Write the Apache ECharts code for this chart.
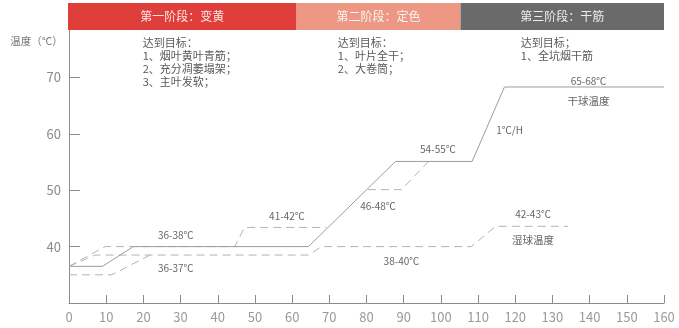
<!DOCTYPE html>
<html>
<head>
<meta charset="utf-8">
<script src="https://cdn.jsdelivr.net/npm/echarts@6/dist/echarts.min.js"></script>
<style>
html, body { margin: 0; padding: 0; background: #fff; }
#c { width: 679px; height: 328px; }
</style>
</head>
<body>
<div id="c"></div>
<script>
const FONT = '"Noto Sans CJK SC", "Noto Sans", sans-serif';

// 烘烤时间 (h) 与温度 (℃) 的折点
const dryBulb  = [[0, 36.5], [9, 36.5], [17.3, 40], [64.4, 40], [87.8, 55.1], [108.4, 55.1], [117.1, 68.3], [160, 68.3]];
const dryUpper = [[0, 36.5], [9.7, 40], [44.6, 40], [47.2, 43.4], [69.2, 43.4]];
const dryMid   = [[80.4, 50.1], [89.4, 50.1], [96.7, 55.1]];
const wetBulb  = [[0, 36.5], [7, 38.5], [64.4, 38.5], [67.9, 40], [108.2, 40], [114.7, 43.6], [134.2, 43.6]];
const wetLower = [[0, 35], [11.5, 35], [21.8, 38.5]];

// 阶段划分
const stageBounds = [0, 61.2, 105.3, 160];
const stageNames  = ['第一阶段：变黄', '第二阶段：定色', '第三阶段：干筋'];
const stageColors = ['#e03e3b', '#ec9884', '#6a6a6a'];

// 各阶段目标
const goalX = [19.8, 72.3, 121.5];
const goalY = 76.2;
const goalTexts = [
  ['达到目标：', '1、烟叶黄叶青筋；', '2、充分凋萎塌架；', '3、主叶发软；'],
  ['达到目标：', '1、叶片全干；', '2、大卷筒；'],
  ['达到目标；', '1、全坑烟干筋']
];

// 温度标注 [x, y, 文本, 字号]
const notes = [
  [28.7, 42.1, '36-38℃', 10],
  [28.7, 36.2, '36-37℃', 10],
  [58.6, 45.4, '41-42℃', 10],
  [83.1, 47.1, '46-48℃', 10],
  [99.2, 57.2, '54-55℃', 10],
  [89.4, 37.4, '38-40℃', 10],
  [124.8, 45.7, '42-43℃', 10],
  [124.8, 41.1, '湿球温度', 10.5],
  [118.5, 60.6, '1℃/H', 10],
  [139.7, 69.3, '65-68℃', 10],
  [139.7, 65.9, '干球温度', 10.5]
];

const xMin = 0, xMax = 160, xStep = 10;
const yMin = 30, yMax = 80, yStep = 10;
const yLabels = [40, 50, 60, 70];

const chart = echarts.init(document.getElementById('c'), null, { renderer: 'canvas' });

const solid = { color: '#9c9c9c', width: 1 };
const dashed = { color: '#b3b3b3', width: 1, type: [8, 5] };
function lineSeries(data, style) {
  return { type: 'line', data: data, symbol: 'none', silent: true, clip: false,
           lineStyle: style, z: style === solid ? 3 : 2 };
}

chart.setOption({
  animation: false,
  grid: { left: 69, right: 15, top: 21, bottom: 25 },
  xAxis: {
    type: 'value', min: xMin, max: xMax, interval: xStep,
    axisLine: { lineStyle: { color: '#8c8c8c', width: 1 } },
    axisTick: { inside: true, length: 8, lineStyle: { color: '#8c8c8c' } },
    axisLabel: { color: '#9a9a9a', fontSize: 13, fontFamily: FONT, margin: 8 },
    splitLine: { show: false }
  },
  yAxis: {
    type: 'value', min: yMin, max: yMax, interval: yStep,
    axisLine: { show: true, lineStyle: { color: '#8c8c8c', width: 1 } },
    axisTick: { show: true, inside: true, length: 11, lineStyle: { color: '#8c8c8c' } },
    axisLabel: {
      color: '#8a8a8a', fontSize: 13, fontFamily: FONT, margin: 8,
      formatter: v => (yLabels.indexOf(v) >= 0 ? String(v) : '')
    },
    splitLine: { show: false }
  },
  series: [
    lineSeries(dryBulb, solid),
    lineSeries(dryUpper, dashed),
    lineSeries(dryMid, dashed),
    lineSeries(wetBulb, dashed),
    lineSeries(wetLower, dashed)
  ]
});

const px = v => chart.convertToPixel({ xAxisIndex: 0 }, v);
const py = v => chart.convertToPixel({ yAxisIndex: 0 }, v);

const graphics = [];

// 阶段色条
for (let i = 0; i < stageNames.length; i++) {
  const x0 = px(stageBounds[i]) - (i === 0 ? 1 : 0);
  const x1 = px(stageBounds[i + 1]);
  graphics.push({
    type: 'rect', z: 100,
    shape: { x: x0, y: 3, width: x1 - x0, height: 27 },
    style: { fill: stageColors[i] }
  });
  graphics.push({
    type: 'text', z: 101,
    style: {
      x: (x0 + x1) / 2, y: 16.5, text: stageNames[i],
      font: '12px ' + FONT, fill: 'rgba(255,255,255,0.88)',
      textAlign: 'center', textVerticalAlign: 'middle'
    }
  });
}

// 纵轴名称
graphics.push({
  type: 'text', z: 101,
  style: {
    x: 36.5, y: 41, text: '温度（℃）', font: '10.5px ' + FONT, fill: '#777',
    textAlign: 'center', textVerticalAlign: 'middle'
  }
});

// 阶段目标
for (let i = 0; i < goalTexts.length; i++) {
  graphics.push({
    type: 'text', z: 101,
    style: {
      x: px(goalX[i]), y: py(goalY) - 6.5, text: goalTexts[i].join('\n'),
      font: '11px ' + FONT, fill: '#595959', lineHeight: 13,
      textAlign: 'left', textVerticalAlign: 'top'
    }
  });
}

// 温度标注
notes.forEach(n => {
  graphics.push({
    type: 'text', z: 101,
    style: {
      x: px(n[0]), y: py(n[1]), text: n[2], font: n[3] + 'px ' + FONT, fill: '#666',
      textAlign: 'center', textVerticalAlign: 'middle'
    }
  });
});

chart.setOption({ graphic: graphics });
</script>
</body>
</html>
